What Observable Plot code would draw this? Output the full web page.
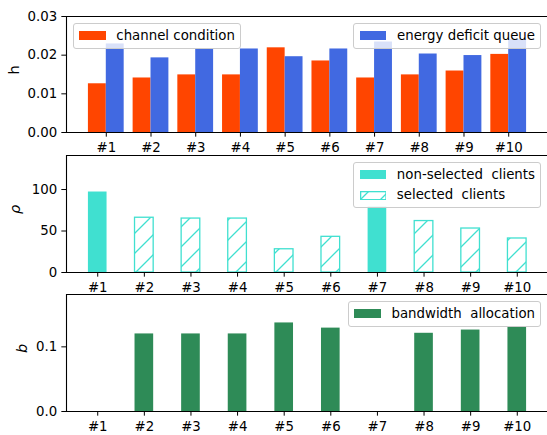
<!DOCTYPE html>
<html>
<head>
<meta charset="utf-8">
<script src="https://cdn.jsdelivr.net/npm/d3@7"></script>
<script src="https://cdn.jsdelivr.net/npm/@observablehq/plot@0.6"></script>
<style>
html, body { margin: 0; padding: 0; background: #fff; overflow: hidden; }
#wrap { position: relative; width: 547px; height: 435px; overflow: hidden; font-family: "DejaVu Sans", sans-serif; font-size: 13.33px; color: #000; }
.panel { position: absolute; left: 0; }
.legend { position: absolute; background: rgba(255,255,255,0.8); border: 1px solid #cccccc; border-radius: 3px; padding: 5px 5.33px; box-sizing: border-box; }
.row { display: flex; align-items: center; height: 14px; line-height: 14px; white-space: pre; }
.row + .row { margin-top: 6.67px; }
.handle { width: 26.67px; height: 9.33px; margin-right: 10.67px; flex: none; display: block; }
</style>
</head>
<body>
<svg width="0" height="0" style="position:absolute">
  <defs>
    <pattern id="hatch" patternUnits="userSpaceOnUse" width="20" height="20" patternTransform="translate(9,0)">
      <path d="M-5,5 L5,-5 M0,20 L20,0 M15,25 L25,15" stroke="#40E0D0" stroke-width="1.3" fill="none"/>
    </pattern>
  </defs>
</svg>
<div id="wrap"></div>
<script>
// ---- data ----
const clients = ["#1", "#2", "#3", "#4", "#5", "#6", "#7", "#8", "#9", "#10"];
const channelCondition = [0.0126, 0.0141, 0.0149, 0.0149, 0.0219, 0.0185, 0.0141, 0.0149, 0.0159, 0.0202];
const energyDeficitQueue = [0.0229, 0.0193, 0.0216, 0.0216, 0.0196, 0.0216, 0.0234, 0.0203, 0.0199, 0.0241];
const rho = [97, 66, 65, 65, 28, 43, 79, 62, 53, 41];
const selected = [false, true, true, true, true, true, false, true, true, true];
const bandwidth = [0, 0.120, 0.120, 0.120, 0.137, 0.129, 0, 0.121, 0.126, 0.130];
const hTicks = [0, 0.01, 0.02, 0.03];
const rhoTicks = [0, 50, 100];
const bTicks = [0, 0.1];

const C_RED = "#FF4500", C_BLUE = "#4169E1", C_TURQ = "#40E0D0", C_GREEN = "#2E8B57";
const idx = d3.range(clients.length);
const wrap = document.getElementById("wrap");

function panel({top, innerH, yDomain, yTicks, yFormat, xDomain, marks, ylabel, italic, labelDx}) {
  const mt = 16, mb = 26;
  const svg = Plot.plot({
    width: 547,
    height: mt + innerH + mb,
    marginTop: mt, marginBottom: mb, marginLeft: 66, marginRight: 0,
    style: {background: "none", overflow: "visible", maxWidth: "none", fontFamily: "DejaVu Sans", fontSize: "13.33px", color: "black"},
    x: {type: "linear", domain: xDomain, range: [66, 548]},
    y: {type: "linear", domain: yDomain},
    marks: [
      ...marks,
      Plot.axisX({ticks: idx, tickFormat: i => clients[i], tickSize: 4.67, tickPadding: 5, label: null, stroke: "black", fill: "black"}),
      Plot.axisY({ticks: yTicks, tickFormat: yFormat, tickSize: 4.67, tickPadding: 4.67, label: null, stroke: "black", fill: "black"}),
      Plot.ruleY([yDomain[0]], {stroke: "black", strokeWidth: 1.1}),
      Plot.ruleY([yDomain[1]], {stroke: "black", strokeWidth: 1.1}),
      Plot.ruleX([xDomain[0]], {stroke: "black", strokeWidth: 1.1}),
      Plot.text([ylabel], {frameAnchor: "left", dx: labelDx, rotate: -90, fontSize: 14.5, fontStyle: italic ? "italic" : "normal", fill: "black"})
    ]
  });
  svg.classList.add("panel");
  svg.style.top = top + "px";
  wrap.appendChild(svg);
}

// Panel 1: h
panel({
  top: 0, innerH: 116, yDomain: [0, 0.03], yTicks: hTicks, yFormat: d3.format(".2f"),
  xDomain: [-0.89, 9.89], ylabel: "h", italic: false, labelDx: -52,
  marks: [
    Plot.rect(idx, {x1: i => i - 0.4, x2: i => i, y1: 0, y2: i => channelCondition[i], fill: C_RED}),
    Plot.rect(idx, {x1: i => i, x2: i => i + 0.4, y1: 0, y2: i => energyDeficitQueue[i], fill: C_BLUE})
  ]
});

// Panel 2: rho
panel({
  top: 139, innerH: 117, yDomain: [0, 141], yTicks: rhoTicks, yFormat: d3.format("d"),
  xDomain: [-0.67, 9.67], ylabel: "ρ", italic: true, labelDx: -51,
  marks: [
    Plot.rect(idx.filter(i => !selected[i]), {x1: i => i - 0.2, x2: i => i + 0.2, y1: 0, y2: i => rho[i], fill: C_TURQ}),
    Plot.rect(idx.filter(i => selected[i]), {x1: i => i - 0.2, x2: i => i + 0.2, y1: 0, y2: i => rho[i], fill: "url(#hatch)", stroke: C_TURQ, strokeWidth: 1.3})
  ]
});

// Panel 3: b
panel({
  top: 278, innerH: 117, yDomain: [0, 0.181], yTicks: bTicks, yFormat: d3.format(".1f"),
  xDomain: [-0.67, 9.67], ylabel: "b", italic: true, labelDx: -44,
  marks: [
    Plot.rect(idx, {x1: i => i - 0.2, x2: i => i + 0.2, y1: 0, y2: i => bandwidth[i], fill: C_GREEN})
  ]
});

// ---- legends ----
function handle(kind, color) {
  if (kind === "hatch") {
    return `<svg class="handle" viewBox="0 0 26.67 9.33"><rect x="0.65" y="0.65" width="25.37" height="8.03" fill="url(#hatch)" stroke="${color}" stroke-width="1.3"/></svg>`;
  }
  return `<span class="handle" style="background:${color}"></span>`;
}
function legend(pos, items) {
  const d = document.createElement("div");
  d.className = "legend";
  Object.assign(d.style, pos);
  d.innerHTML = items.map(([label, kind, color]) =>
    `<div class="row">${handle(kind, color)}<span>${label}</span></div>`).join("");
  wrap.appendChild(d);
}
legend({left: "72.7px", top: "22.7px"}, [["channel condition", "fill", C_RED]]);
legend({right: "5.7px", top: "22.7px"}, [["energy deficit queue", "fill", C_BLUE]]);
legend({right: "5.7px", top: "161.7px"}, [["non-selected  clients", "fill", C_TURQ], ["selected  clients", "hatch", C_TURQ]]);
legend({right: "5.7px", top: "300.7px"}, [["bandwidth  allocation", "fill", C_GREEN]]);
</script>
</body>
</html>
